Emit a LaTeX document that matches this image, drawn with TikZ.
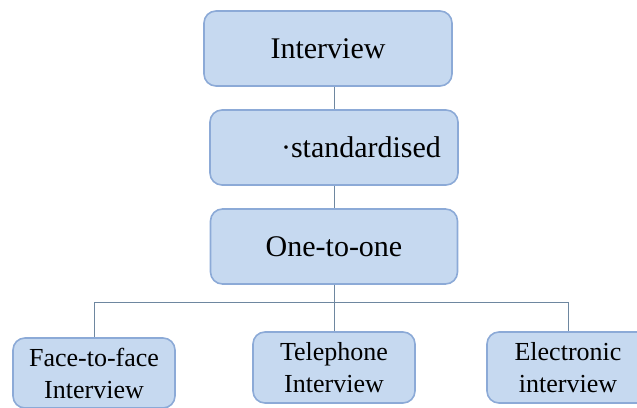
\documentclass[tikz,border=0pt]{standalone}
\usepackage{fontspec}
\setmainfont{Liberation Serif}
\newfontfamily\tnr{Liberation Serif}
\definecolor{boxfill}{RGB}{198,217,240}
\definecolor{boxline}{RGB}{140,170,215}
\definecolor{linkc}{RGB}{110,135,160}
\begin{document}
\begin{tikzpicture}[x=1pt,y=-1pt,
  box/.style={draw=boxline, fill=boxfill, line width=1.6pt, rounded corners=12pt,
    inner sep=0pt, font=\tnr\fontsize{30}{36}\selectfont},
  sbox/.style={box, minimum width=162pt, minimum height=71pt,
    font=\tnr\fontsize{26}{32}\selectfont, align=center},
  link/.style={draw=linkc, line width=0.9pt}]
\useasboundingbox (0,0) rectangle (637,407);
\clip (0,0) rectangle (637,407);
\node[box, minimum width=248pt, minimum height=75pt] (i) at (328,48.5) {Interview};
\node[box, minimum width=248pt, minimum height=75pt] (s) at (334,147.5) {\hspace*{54pt}·standardised};
\node[box, minimum width=247pt, minimum height=75pt] (o) at (334,246.5) {One-to-one};
\node[sbox, minimum height=70pt] (f) at (94,373) {Face-to-face\\Interview};
\node[sbox] (t) at (334,367.5) {Telephone\\Interview};
\node[sbox] (e) at (568,367.5) {Electronic\\interview};
\coordinate (bar) at (0,302);
\draw[link] (i.south -| s.north) -- (s.north);
\draw[link] (s.south) -- (o.north);
\draw[link] (o.south) -- (t.north);
\draw[link] (f.north) |- (e.north |- bar) -- (e.north);
\end{tikzpicture}
\end{document}
